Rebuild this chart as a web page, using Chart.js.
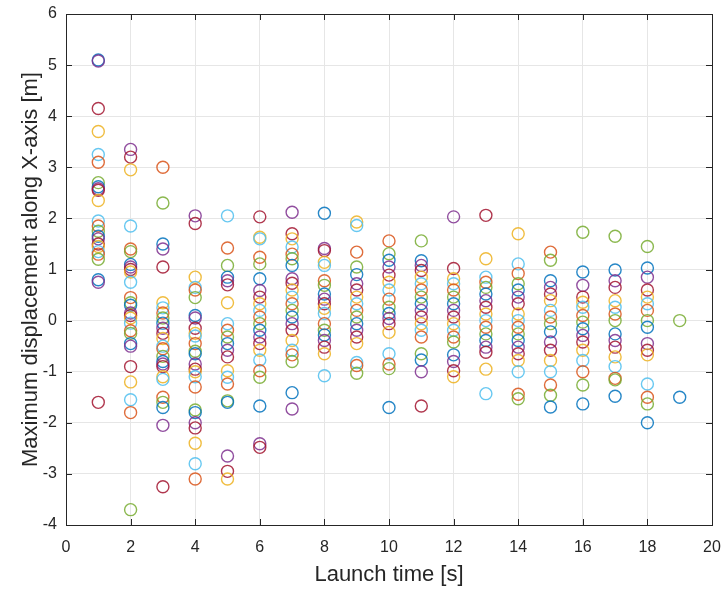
<!DOCTYPE html>
<html>
<head>
<meta charset="utf-8">
<script src="https://cdn.jsdelivr.net/npm/chart.js@4.4.0/dist/chart.umd.min.js"></script>
<style>
    html, body { margin: 0; padding: 0; background: #fff; }
    #wrap { width: 723px; height: 590px; }
</style>
</head>
<body>
<div id="wrap"><canvas id="myChart" width="723" height="590"></canvas></div>
<script>
// launch times (x) and the max displacements read for each of them
const launchTimes = [1, 2, 3, 4, 5, 6, 7, 8, 9, 10, 11, 12, 13, 14, 15, 16, 17, 18, 19];

const disp01 = [5.1, 5.08, 4.15, 3.7, 3.25, 3.1, 2.7, 2.62, 2.58, 2.55, 2.35, 1.95, 1.85, 1.75, 1.65, 1.6, 1.5, 1.45, 1.35, 1.3, 1.2, 0.8, 0.75, -1.6];
const disp02 = [3.35, 3.2, 2.95, 1.85, 1.4, 1.35, 1.1, 1.05, 1.0, 0.95, 0.75, 0.45, 0.35, 0.3, 0.15, 0.1, 0.05, -0.05, -0.2, -0.25, -0.45, -0.5, -0.9, -1.2, -1.55, -1.8, -3.7];
const disp03 = [3.0, 2.3, 1.5, 1.4, 1.05, 0.35, 0.25, 0.15, 0.05, -0.05, -0.15, -0.25, -0.35, -0.5, -0.55, -0.7, -0.8, -0.85, -0.9, -1.1, -1.15, -1.5, -1.6, -1.7, -2.05, -3.25];
const disp04 = [2.05, 1.9, 0.85, 0.65, 0.6, 0.45, 0.1, 0.05, -0.15, -0.25, -0.3, -0.45, -0.6, -0.65, -0.85, -0.95, -1.0, -1.1, -1.3, -1.75, -1.8, -2.0, -2.1, -2.4, -2.8, -3.1];
const disp05 = [2.05, 1.42, 1.08, 0.85, 0.78, 0.7, 0.35, -0.06, -0.19, -0.32, -0.45, -0.58, -0.71, -0.98, -1.11, -1.24, -1.57, -1.6, -2.65, -2.95, -3.1];
const disp06 = [2.03, 1.63, 1.6, 1.24, 1.11, 0.82, 0.59, 0.46, 0.33, 0.2, 0.07, -0.06, -0.19, -0.32, -0.45, -0.58, -0.77, -0.98, -1.11, -1.67, -2.41, -2.48];
const disp07 = [2.12, 1.7, 1.6, 1.44, 1.3, 1.21, 1.08, 0.82, 0.73, 0.6, 0.46, 0.33, 0.2, 0.07, -0.06, -0.19, -0.39, -0.58, -0.67, -0.8, -1.41, -1.73];
const disp08 = [2.1, 1.41, 1.37, 1.14, 1.08, 0.78, 0.69, 0.52, 0.42, 0.33, 0.24, 0.14, -0.06, -0.19, -0.28, -0.39, -0.52, -0.65, -1.08];
const disp09 = [1.93, 1.86, 1.34, 1.05, 0.9, 0.72, 0.6, 0.46, 0.33, 0.2, 0.07, -0.06, -0.19, -0.32, -0.45, -0.82, -0.88, -1.03];
const disp10 = [1.56, 1.31, 1.18, 1.05, 0.89, 0.75, 0.6, 0.42, 0.26, 0.14, 0.04, -0.06, -0.23, -0.65, -0.85, -0.94, -1.7];
const disp11 = [1.56, 1.17, 1.08, 0.98, 0.85, 0.72, 0.6, 0.46, 0.33, 0.2, 0.07, -0.06, -0.19, -0.32, -0.65, -0.77, -1.0, -1.67];
const disp12 = [2.03, 1.02, 0.82, 0.72, 0.6, 0.46, 0.33, 0.2, 0.07, -0.06, -0.19, -0.32, -0.42, -0.67, -0.8, -0.98, -1.1];
const disp13 = [2.06, 1.21, 0.85, 0.75, 0.65, 0.52, 0.39, 0.26, 0.13, 0.0, -0.13, -0.26, -0.39, -0.52, -0.62, -0.95, -1.43];
const disp14 = [1.7, 1.11, 0.92, 0.72, 0.6, 0.46, 0.33, 0.13, 0.0, -0.13, -0.26, -0.39, -0.52, -0.65, -0.78, -1.0, -1.44, -1.53];
const disp15 = [1.34, 1.18, 0.78, 0.65, 0.52, 0.39, 0.2, 0.07, -0.06, -0.22, -0.42, -0.58, -0.78, -1.0, -1.26, -1.46, -1.69];
const disp16 = [1.73, 0.95, 0.69, 0.46, 0.36, 0.26, 0.1, -0.03, -0.16, -0.29, -0.42, -0.58, -0.78, -1.0, -1.26, -1.63];
const disp17 = [1.65, 0.99, 0.78, 0.65, 0.39, 0.26, 0.13, 0.0, -0.26, -0.39, -0.52, -0.71, -0.9, -1.13, -1.16, -1.48];
const disp18 = [1.45, 1.03, 0.85, 0.6, 0.46, 0.33, 0.2, 0.0, -0.13, -0.45, -0.58, -0.67, -1.24, -1.5, -1.63, -2.0];
const disp19 = [0.0, -1.5];

const displacementsByTime = [disp01, disp02, disp03, disp04, disp05, disp06, disp07, disp08, disp09, disp10,
    disp11, disp12, disp13, disp14, disp15, disp16, disp17, disp18, disp19];

const xTicks = [0, 2, 4, 6, 8, 10, 12, 14, 16, 18, 20];
const yTicks = [-4, -3, -2, -1, 0, 1, 2, 3, 4, 5, 6];

// MATLAB default colour order (a bit faded, like the exported figure)
const matlabColors = [
    'rgba(0,114,189,0.85)', 'rgba(217,83,25,0.85)', 'rgba(237,177,32,0.85)', 'rgba(126,47,142,0.85)',
    'rgba(119,172,48,0.85)', 'rgba(77,190,238,0.85)', 'rgba(162,20,47,0.85)'
];

document.addEventListener('DOMContentLoaded', init);

function buildPoints() {
    const points = [];
    const colors = [];
    let k = 0;
    launchTimes.forEach((t, i) => {
        displacementsByTime[i].forEach(v => {
            points.push({ x: t, y: v });
            colors.push(matlabColors[(k * 3 + i) % matlabColors.length]);
            k++;
        });
    });
    return { points, colors };
}

// box round the axes with inward ticks, like MATLAB's "box on"
const boxPlugin = {
    id: 'matlabBox',
    afterDatasetsDraw(chart) {
        const { ctx, chartArea: a, scales } = chart;
        ctx.save();
        ctx.strokeStyle = '#262626';
        ctx.lineWidth = 1;
        ctx.strokeRect(a.left + 0.5, a.top + 0.5, a.right - a.left, a.bottom - a.top);
        ctx.beginPath();
        xTicks.forEach(t => {
            const px = Math.round(scales.x.getPixelForValue(t)) + 0.5;
            ctx.moveTo(px, a.bottom); ctx.lineTo(px, a.bottom - 6);
            ctx.moveTo(px, a.top); ctx.lineTo(px, a.top + 6);
        });
        yTicks.forEach(t => {
            const py = Math.round(scales.y.getPixelForValue(t)) + 0.5;
            ctx.moveTo(a.left, py); ctx.lineTo(a.left + 6, py);
            ctx.moveTo(a.right, py); ctx.lineTo(a.right - 6, py);
        });
        ctx.stroke();
        ctx.restore();
    }
};

function init() {
    const { points, colors } = buildPoints();
    const ctx = document.getElementById('myChart').getContext('2d');
    const family = 'Liberation Sans, Arial, sans-serif';
    const tickFont = { family, size: 16 };
    const titleFont = { family, size: 22 };

    new Chart(ctx, {
        type: 'scatter',
        data: {
            datasets: [{
                data: points,
                pointStyle: 'circle',
                pointRadius: 6,
                pointBorderWidth: 1.4,
                pointBorderColor: colors,
                pointBackgroundColor: 'rgba(0,0,0,0)'
            }]
        },
        options: {
            responsive: false,
            animation: false,
            layout: { padding: { top: 14, right: 11, left: 0, bottom: 0 } },
            plugins: { legend: { display: false }, tooltip: { enabled: false } },
            scales: {
                x: {
                    type: 'linear',
                    min: 0, max: 20,
                    afterBuildTicks: s => { s.ticks = xTicks.map(v => ({ value: v })); },
                    afterFit: s => { s.height = 65; s.paddingLeft = 0; s.paddingRight = 0; },
                    grid: { color: '#e6e6e6', drawTicks: false },
                    border: { display: false },
                    ticks: { color: '#262626', font: tickFont, padding: 13, maxRotation: 0 },
                    title: { display: true, text: 'Launch time [s]', color: '#262626', font: titleFont, padding: { top: 0, bottom: 2 } }
                },
                y: {
                    type: 'linear',
                    min: -4, max: 6,
                    afterBuildTicks: s => { s.ticks = yTicks.map(v => ({ value: v })); },
                    afterFit: s => { s.width = 66; s.paddingTop = 0; s.paddingBottom = 0; },
                    grid: { color: '#e6e6e6', drawTicks: false },
                    border: { display: false },
                    ticks: { color: '#262626', font: tickFont, padding: 9 },
                    title: { display: true, text: 'Maximum displacement along X-axis [m]', color: '#262626', font: titleFont, padding: { top: 18, bottom: 0 } }
                }
            }
        },
        plugins: [boxPlugin]
    });
}
</script>
</body>
</html>
